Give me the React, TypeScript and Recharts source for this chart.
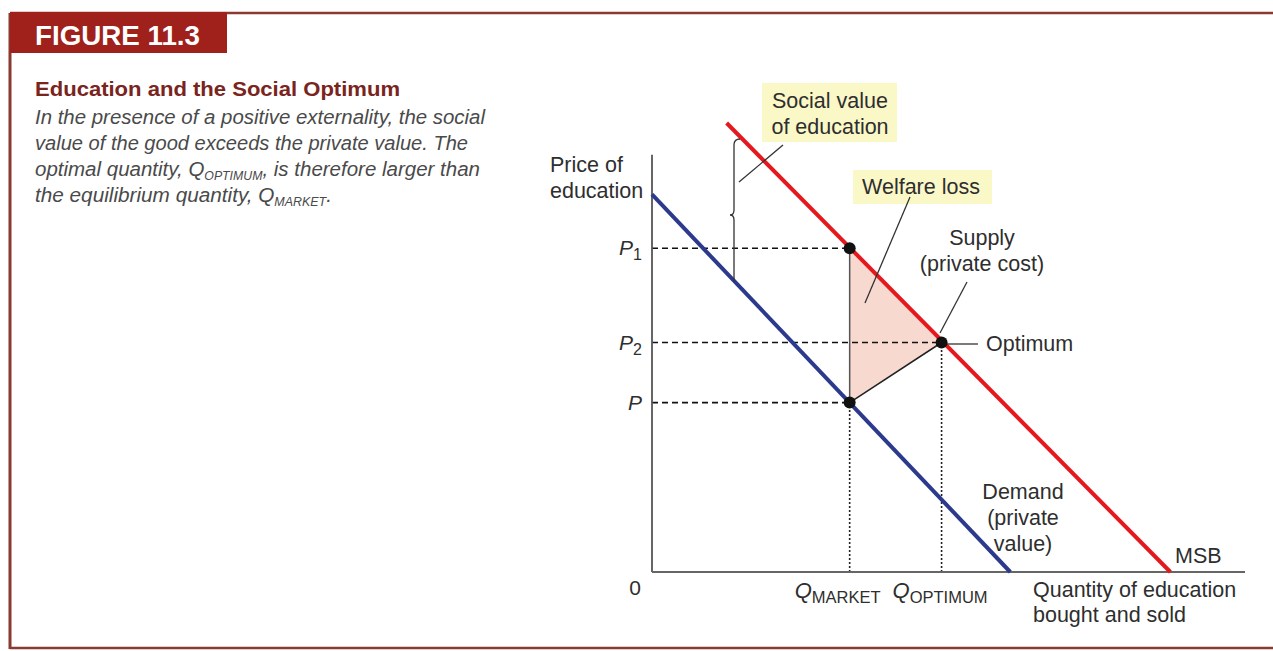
import React from "react";
import { ComposedChart, Line, Area, XAxis, YAxis, ReferenceDot } from "recharts";

// ---- data (quantity q, price p) ----
const Q_MARKET = 4.0;
const Q_OPTIMUM = 5.86;
const P_MARKET = 4.06;
const P_2 = 5.5;
const P_1 = 7.76;

const demandData = [
  { q: 0, p: 9.05 },
  { q: 7.25, p: 0 },
];
const msbData = [
  { q: 1.51, p: 10.76 },
  { q: 10.49, p: 0 },
];
const supplyData = [
  { q: Q_MARKET, p: P_MARKET },
  { q: Q_OPTIMUM, p: P_2 },
];
const welfareData = [
  { q: Q_MARKET, range: [P_MARKET, P_1] },
  { q: Q_OPTIMUM, range: [P_2, P_2] },
];
const dotData = [
  { q: Q_MARKET, p: P_1 },
  { q: Q_OPTIMUM, p: P_2 },
  { q: Q_MARKET, p: P_MARKET },
];

const xTicks = [0, Q_MARKET, Q_OPTIMUM];
const xTickLabels = [
  { main: "0", sub: "" },
  { main: "Q", sub: "MARKET" },
  { main: "Q", sub: "OPTIMUM" },
];
const yTicks = [P_MARKET, P_2, P_1];
const yTickLabels = [
  { main: "P", sub: "" },
  { main: "P", sub: "2" },
  { main: "P", sub: "1" },
];

const FONT = "'Liberation Sans', Arial, Helvetica, sans-serif";
const TXT = "#2e2e2e";

const seg = (a: number, b: number, c: number, d: number) => [
  { q: a, p: b },
  { q: c, p: d },
];

const YTick = (props: any) => {
  const { x, y, payload } = props;
  const i = yTicks.indexOf(payload.value);
  const lab = yTickLabels[i] || { main: "", sub: "" };
  return (
    <text x={x - 2} y={y + 7} textAnchor="end" fontFamily={FONT} fontSize={21} fill={TXT}>
      <tspan fontStyle="italic">{lab.main}</tspan>
      {lab.sub ? (
        <tspan fontSize={16} dy={5}>
          {lab.sub}
        </tspan>
      ) : null}
    </text>
  );
};

const XTick = (props: any) => {
  const { x, y, payload } = props;
  const i = xTicks.indexOf(payload.value);
  const lab = xTickLabels[i] || { main: "", sub: "" };
  if (!lab.sub) {
    return (
      <text x={x - 11} y={y + 15} textAnchor="end" fontFamily={FONT} fontSize={21} fill={TXT}>
        {lab.main}
      </text>
    );
  }
  const off = i === 1 ? -55 : -49;
  return (
    <text x={x + off} y={y + 18} textAnchor="start" fontFamily={FONT} fontSize={22} fill={TXT}>
      <tspan fontStyle="italic">{lab.main}</tspan>
      <tspan fontSize={16.5} dy={5}>
        {lab.sub}
      </tspan>
    </text>
  );
};

const Overlay = () => (
  <svg
    width={1273}
    height={651}
    style={{ position: "absolute", left: 0, top: 0, pointerEvents: "none" }}
  >
    {/* frame */}
    <line x1={10} y1={13} x2={1273} y2={13} stroke="#8a3b31" strokeWidth={2.5} />
    <line x1={10} y1={13} x2={10} y2={649} stroke="#8a3b31" strokeWidth={3} />
    <line x1={10} y1={648} x2={1273} y2={648} stroke="#8a3b31" strokeWidth={2.5} />
    <rect x={10} y={12} width={217} height={41} fill="#a0201b" />
    <text x={35} y={45} fontFamily={FONT} fontWeight="bold" fontSize={28} fill="#fff" textLength={165} lengthAdjust="spacingAndGlyphs">
      FIGURE 11.3
    </text>
    {/* caption */}
    <text x={35} y={96} fontFamily={FONT} fontWeight="bold" fontSize={20} fill="#7a2420" textLength={365} lengthAdjust="spacingAndGlyphs">
      Education and the Social Optimum
    </text>
    <g fontFamily={FONT} fontStyle="italic" fontSize={20} fill="#4a4a4a">
      <text x={35} y={124} textLength={450} lengthAdjust="spacingAndGlyphs">
        In the presence of a positive externality, the social
      </text>
      <text x={35} y={150} textLength={433} lengthAdjust="spacingAndGlyphs">
        value of the good exceeds the private value. The
      </text>
      <text x={35} y={176} textLength={445} lengthAdjust="spacingAndGlyphs">
        optimal quantity, Q<tspan fontSize={12} dy={4}>OPTIMUM</tspan>
        <tspan dy={-4}>, is therefore larger than</tspan>
      </text>
      <text x={35} y={202} textLength={297} lengthAdjust="spacingAndGlyphs">
        the equilibrium quantity, Q<tspan fontSize={12} dy={4}>MARKET</tspan>
        <tspan dy={-4}>.</tspan>
      </text>
    </g>

    {/* annotation boxes */}
    <rect x={762} y={83} width={135} height={59} fill="#fbf8c8" />
    <rect x={853} y={170} width={139} height={34} fill="#fbf8c8" />

    <g fontFamily={FONT} fontSize={21.5} fill={TXT}>
      <text x={830} y={108} textAnchor="middle">Social value</text>
      <text x={830} y={134} textAnchor="middle">of education</text>
      <text x={921} y={194} textAnchor="middle">Welfare loss</text>
      <text x={550} y={172}>Price of</text>
      <text x={550} y={198}>education</text>
      <text x={982} y={245} textAnchor="middle">Supply</text>
      <text x={982} y={271} textAnchor="middle">(private cost)</text>
      <text x={986} y={351}>Optimum</text>
      <text x={1023} y={499} textAnchor="middle">Demand</text>
      <text x={1023} y={525} textAnchor="middle">(private</text>
      <text x={1023} y={551} textAnchor="middle">value)</text>
      <text x={1175} y={563}>MSB</text>
      <text x={1033} y={597}>Quantity of education</text>
      <text x={1033} y={622}>bought and sold</text>
    </g>

    {/* leader lines */}
    <g stroke="#333" strokeWidth={1.3} fill="none">
      <line x1={739} y1={182} x2={783} y2={145} />
      <line x1={910} y1={197} x2={865} y2={303} />
      <line x1={967} y1={282} x2={940} y2={333} />
      <line x1={947} y1={344} x2={978} y2={344} />
      <path d="M 740 139 Q 734 139 734 145 L 734 210 Q 734 215 730 215 Q 734 215 734 220 L 734 282" />
    </g>
  </svg>
);

export default function App() {
  return (
    <div style={{ position: "absolute", left: 0, top: 0, width: 1273, height: 651, background: "#fff" }}>
      <ComposedChart
        width={1273}
        height={651}
        margin={{ top: 113, right: 28, bottom: 39, left: 612 }}
      >
        <XAxis
          type="number"
          dataKey="q"
          domain={[0, 12]}
          ticks={xTicks}
          interval={0}
          height={40}
          axisLine={false}
          tickLine={false}
          tick={XTick}
        />
        <YAxis
          type="number"
          domain={[0, 11]}
          ticks={yTicks}
          interval={0}
          width={40}
          axisLine={false}
          tickLine={false}
          tick={YTick}
        />
        <Area
          data={welfareData}
          dataKey="range"
          type="linear"
          fill="#f7d9d0"
          fillOpacity={1}
          stroke="none"
          isAnimationActive={false}
        />
        {/* dashed price guides */}
        <Line data={seg(0, P_1, Q_MARKET, P_1)} dataKey="p" stroke="#111" strokeWidth={1.6} strokeDasharray="6 4" dot={false} isAnimationActive={false} />
        <Line data={seg(0, P_2, Q_OPTIMUM, P_2)} dataKey="p" stroke="#111" strokeWidth={1.6} strokeDasharray="6 4" dot={false} isAnimationActive={false} />
        <Line data={seg(0, P_MARKET, Q_MARKET, P_MARKET)} dataKey="p" stroke="#111" strokeWidth={1.6} strokeDasharray="6 4" dot={false} isAnimationActive={false} />
        {/* dotted quantity guides */}
        <Line data={seg(Q_MARKET, 0, Q_MARKET, P_MARKET)} dataKey="p" stroke="#222" strokeWidth={1.6} strokeDasharray="2 2" dot={false} isAnimationActive={false} />
        <Line data={seg(Q_OPTIMUM, 0, Q_OPTIMUM, P_2)} dataKey="p" stroke="#222" strokeWidth={1.6} strokeDasharray="2 2" dot={false} isAnimationActive={false} />
        {/* welfare loss left edge */}
        <Line data={seg(Q_MARKET, P_MARKET, Q_MARKET, P_1)} dataKey="p" stroke="#555" strokeWidth={1.5} dot={false} isAnimationActive={false} />
        {/* axes */}
        <Line data={seg(0, 0, 0, 10)} dataKey="p" stroke="#555" strokeWidth={1.8} dot={false} isAnimationActive={false} />
        <Line data={seg(0, 0, 12, 0)} dataKey="p" stroke="#666" strokeWidth={2.2} dot={false} isAnimationActive={false} />
        {/* curves */}
        <Line data={supplyData} dataKey="p" type="linear" stroke="#222" strokeWidth={1.5} dot={false} isAnimationActive={false} />
        <Line data={demandData} dataKey="p" type="linear" stroke="#2c3a8e" strokeWidth={4} dot={false} isAnimationActive={false} />
        <Line data={msbData} dataKey="p" type="linear" stroke="#e5181e" strokeWidth={4} dot={false} isAnimationActive={false} />
        {dotData.map((d, i) => (
          <ReferenceDot key={i} x={d.q} y={d.p} r={6} fill="#111" stroke="none" />
        ))}
      </ComposedChart>
      <Overlay />
    </div>
  );
}
